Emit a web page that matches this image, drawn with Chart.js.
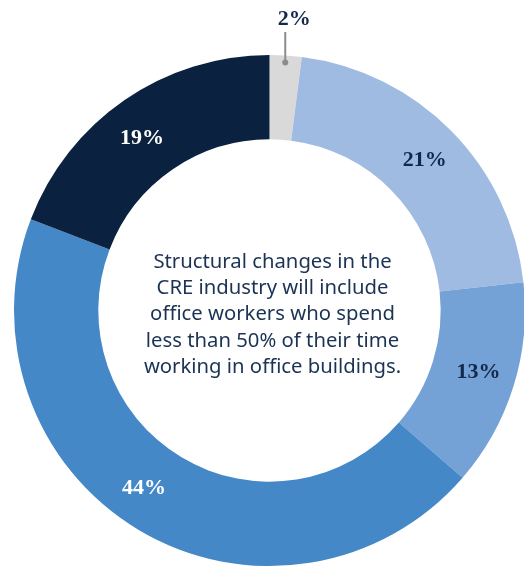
<!DOCTYPE html>
<html>
<head>
<meta charset="utf-8">
<script src="https://cdn.jsdelivr.net/npm/chart.js@4.4.1/dist/chart.umd.min.js"></script>
<style>
  html, body { margin: 0; padding: 0; background: #fff; }
  #wrap { width: 524px; height: 567px; overflow: hidden; position: relative; }
  #chart { position: absolute; left: 0; top: 0; }
</style>
</head>
<body>
<div id="wrap"><canvas id="chart" width="560" height="620"></canvas></div>
<script>
const categories = ['Other', 'Segment A', 'Segment B', 'Segment C', 'Segment D']
const shares = [2, 21, 13, 44, 19]
const sliceColors = ['#d9d9d9', '#9fbbe1', '#74a1d6', '#4588c7', '#0a2240']
const labelColors = ['#13294b', '#13294b', '#13294b', '#ffffff', '#ffffff']
const centerLines = [
  'Structural changes in the',
  'CRE industry will include',
  'office workers who spend',
  'less than 50% of their time',
  'working in office buildings.'
]

// small angle tweaks (degrees) so labels sit where the original put them
const labelNudge = [0, 0, -1.3, 4.9, -1.9]

const labelPlugin = {
  id: 'sliceLabels',
  afterDatasetsDraw(chart) {
    const ctx = chart.ctx
    const meta = chart.getDatasetMeta(0)
    ctx.save()
    ctx.font = 'bold 22px "Liberation Serif", serif'
    ctx.textAlign = 'center'
    ctx.textBaseline = 'middle'
    meta.data.forEach((arc, i) => {
      const text = shares[i] + '%'
      const props = arc.getProps(['x', 'y', 'startAngle', 'endAngle', 'innerRadius', 'outerRadius'], true)
      const mid = (props.startAngle + props.endAngle) / 2 + labelNudge[i] * Math.PI / 180
      if (shares[i] < 5) {
        // small slice: leader line up to a label above the ring
        const r = props.outerRadius - 7
        const px = props.x + Math.cos(mid) * r
        const py = props.y + Math.sin(mid) * r
        ctx.strokeStyle = '#8c8c8c'
        ctx.fillStyle = '#8c8c8c'
        ctx.lineWidth = 2
        ctx.beginPath()
        ctx.moveTo(px, py)
        ctx.lineTo(px, 32)
        ctx.stroke()
        ctx.beginPath()
        ctx.arc(px, py, 3, 0, Math.PI * 2)
        ctx.fill()
        ctx.fillStyle = labelColors[i]
        ctx.fillText(text, px + 9, 19)
        return
      }
      const r = (props.innerRadius + props.outerRadius) / 2 + 3
      ctx.fillStyle = labelColors[i]
      ctx.fillText(text, props.x + Math.cos(mid) * r + 1, props.y + Math.sin(mid) * r + 2)
    })
    ctx.restore()
  }
}

const centerPlugin = {
  id: 'centerText',
  afterDraw(chart) {
    const ctx = chart.ctx
    const arc = chart.getDatasetMeta(0).data[0]
    const cx = arc.x + 3
    const cy = arc.y + 4
    const lh = 26.3
    ctx.save()
    ctx.font = '20.3px "Noto Sans", sans-serif'
    ctx.fillStyle = '#1b3354'
    ctx.textAlign = 'center'
    ctx.textBaseline = 'middle'
    centerLines.forEach((line, i) => {
      ctx.fillText(line, cx, cy + (i - (centerLines.length - 1) / 2) * lh)
    })
    ctx.restore()
  }
}

new Chart(document.getElementById('chart'), {
  type: 'doughnut',
  data: {
    labels: categories,
    datasets: [{
      data: shares,
      backgroundColor: sliceColors,
      borderWidth: 0
    }]
  },
  options: {
    responsive: false,
    devicePixelRatio: 1,
    animation: false,
    cutout: '67%',
    layout: { padding: { left: 14, top: 55, right: 35, bottom: 54 } },
    plugins: {
      legend: { display: false },
      tooltip: { enabled: false }
    }
  },
  plugins: [labelPlugin, centerPlugin]
})
</script>
</body>
</html>
